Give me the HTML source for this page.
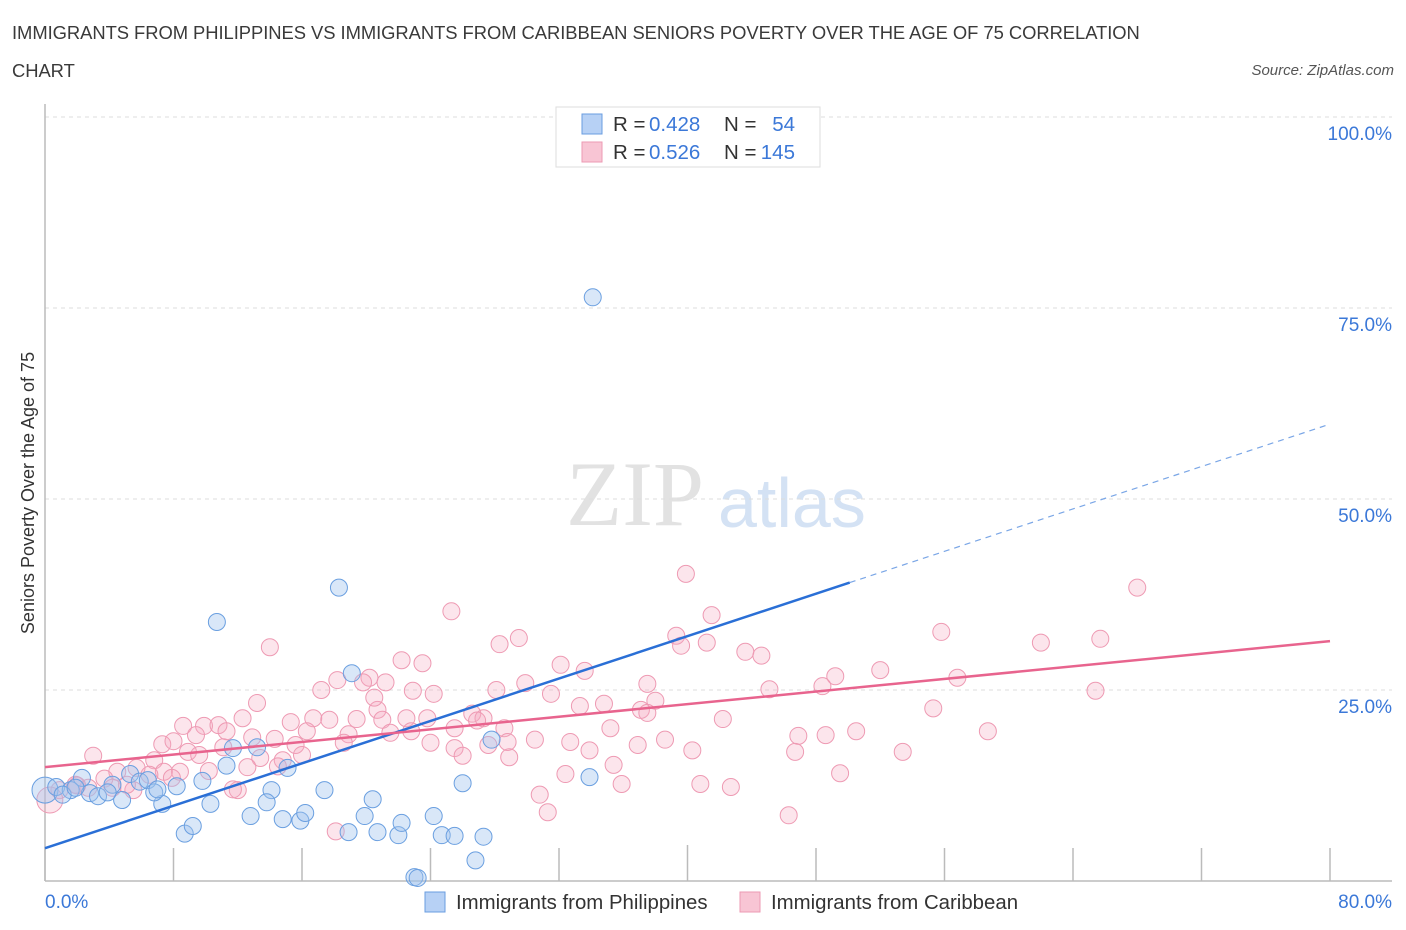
<!DOCTYPE html>
<html><head><meta charset="utf-8"><style>
body{margin:0;background:#fff;font-family:"Liberation Sans",sans-serif;}
#wrap{position:relative;width:1406px;height:930px;overflow:hidden;}
.t{position:absolute;white-space:nowrap;}
</style></head><body>
<div id="wrap">
<div class="t" style="left:12px;top:14px;font-size:18.4px;color:#3a3a3a;line-height:38px;letter-spacing:-0.05px;">IMMIGRANTS FROM PHILIPPINES VS IMMIGRANTS FROM CARIBBEAN SENIORS POVERTY OVER THE AGE OF 75 CORRELATION<br>CHART</div>
<div class="t" style="right:12px;top:62px;font-size:15px;color:#555;font-style:italic;">Source: ZipAtlas.com</div>
<svg id="plot" width="1406" height="930" style="position:absolute;left:0;top:0"></svg>
</div>
<script>
const xTicks=[0,10,20,30,40,50,60,70,80];
const yTicks=[25,50,75,100];
const blueX=[47.6,34.1,18.3,10.7,19.1,27.8,33.9,26.0,13.2,11.7,11.3,15.1,20.4,17.4,14.1,13.8,10.3,9.8,8.2,7.3,8.7,9.2,12.8,14.8,15.9,16.2,18.9,19.9,20.7,22.0,22.2,24.2,24.7,25.5,27.3,26.8,23.0,23.2,0,0.7,2.3,2.8,3.3,4.8,4.2,5.3,5.9,6.4,6.8,1.6,1.1,3.9,7.0,1.9];
const blueY=[100,76.4,38.4,33.9,27.2,18.5,13.6,12.8,17.5,17.4,15.1,14.8,10.7,11.9,11.9,10.3,10.1,13.1,12.4,10.1,6.2,7.2,8.5,8.1,7.9,8.9,6.4,8.5,6.4,6.0,7.6,8.5,6.0,5.9,5.8,2.7,0.5,0.4,11.9,12.3,13.5,11.5,11.1,10.6,12.6,14.0,13.0,13.2,11.6,11.9,11.3,11.6,12.0,12.2];
const pinkX=[39.9,68.0,25.3,41.5,29.5,39.3,55.8,65.7,62.0,28.3,41.2,39.6,14.0,43.6,44.6,22.2,23.5,32.1,33.6,52.0,49.2,56.8,18.2,20.2,21.2,29.9,37.5,48.4,45.1,65.4,17.2,22.9,24.2,28.1,31.5,38.0,13.2,20.7,26.6,33.3,34.8,37.1,37.5,55.3,12.3,8.6,9.9,10.8,15.3,16.7,17.7,19.4,21.0,22.5,23.8,27.3,28.6,35.2,42.2,58.7,50.5,48.6,46.9,9.4,11.3,12.9,14.3,16.3,18.9,21.5,22.8,25.5,28.8,30.5,32.7,7.3,8.0,11.1,15.6,18.6,24.0,25.5,27.6,36.9,38.6,40.3,46.7,53.4,33.9,26.0,28.9,3.0,6.8,8.9,9.6,13.4,14.8,35.4,12.6,10.2,8.4,7.4,5.7,4.5,3.7,6.5,32.4,49.5,35.9,40.8,42.7,30.8,5.5,2.7,1.9,0.9,0.3,12.0,18.1,31.3,46.3,4.2,5.1,19.8,26.9,16.0,11.7,2.0,7.9,14.5,20.5];
const pinkY=[40.2,38.4,35.3,34.8,31.8,32.1,32.6,31.7,31.2,31.0,31.2,30.8,30.6,30.0,29.5,28.9,28.5,28.3,27.5,27.6,26.8,26.6,26.3,26.6,26.0,25.9,25.8,25.5,25.1,24.9,25.0,24.9,24.5,25.0,24.5,23.6,23.3,22.4,21.9,22.9,23.2,22.4,22.0,22.6,21.3,20.3,20.3,20.4,20.8,21.3,21.1,21.2,21.1,21.3,21.3,21.3,20.0,20.0,21.2,19.6,19.6,19.1,19.0,19.1,19.6,18.8,18.6,19.6,19.2,19.4,19.6,20.0,18.2,18.5,18.2,17.9,18.3,17.5,17.8,18.1,18.1,17.4,17.8,17.8,18.5,17.1,16.9,16.9,17.1,16.4,16.2,16.4,15.8,16.9,16.5,16.1,15.8,15.2,14.9,14.4,14.3,14.3,14.8,14.3,13.4,13.9,14.0,14.1,12.7,12.7,12.3,11.3,11.9,12.2,12.6,11.9,10.6,11.9,6.5,9.0,8.6,12.2,12.6,26.0,21.0,16.5,12.0,12.5,13.5,15.0,24.0];
const blueTrend=[4.3,59.8];
const pinkTrend=[14.9,31.4];
const blueSolidEnd=50.1;

const NS='http://www.w3.org/2000/svg';
const svg=document.getElementById('plot');
const X0=45,X1=1330,Y0=881,Y100=117;
const xs=v=>X0+v/80*(X1-X0);
const ys=v=>Y0-v/100*(Y0-Y100);
function mk(tag,attrs,parent){const e=document.createElementNS(NS,tag);for(const k in attrs)e.setAttribute(k,attrs[k]);(parent||svg).appendChild(e);return e;}

let wm=mk('text',{x:635,y:525,'font-size':92,'font-family':'Liberation Serif, serif',fill:'#e2e2e2','text-anchor':'middle'});


wm.textContent='ZIP';
let wm2=mk('text',{x:718,y:527,'font-size':70,'font-family':'Liberation Sans, sans-serif',fill:'#d4e2f4'});


wm2.textContent='atlas';

yTicks.forEach(v=>{
  const g=mk('line',{x1:X0,x2:1392,y1:ys(v),y2:ys(v),stroke:'#ddd','stroke-dasharray':'4,4'});
  
  
  const t=mk('text',{x:1392,y:ys(v)+23,'font-size':19,fill:'#3b78d8','text-anchor':'end'});
  
  
  t.textContent=v.toFixed(1)+'%';
});
let ax=mk('line',{x1:X0,x2:X0,y1:104,y2:Y0,stroke:'#bbb','stroke-width':1.5});


let ax2=mk('line',{x1:X0,x2:1392,y1:Y0,y2:Y0,stroke:'#bbb','stroke-width':1.5});


for(let i=0;i<=10;i++){
  const tk=mk('line',{x1:xs(i*8),x2:xs(i*8),y1:i==5?845:848,y2:Y0,stroke:'#bbb','stroke-width':1.5});
  
  
}
[[0,'0.0%','start',45],[80,'80.0%','end',1392]].forEach(a=>{
  const t=mk('text',{x:a[3],y:908,'font-size':19,fill:'#3b78d8','text-anchor':a[2]});
  
  
  t.textContent=a[1];
});
let yt=mk('text',{x:0,y:0,'font-size':18,fill:'#333','text-anchor':'middle',transform:'translate(34,493) rotate(-90)'});


yt.textContent='Seniors Poverty Over the Age of 75';

pinkX.forEach((x,i)=>{
  const c=mk('circle',{cx:xs(x),cy:ys(pinkY[i]),r:i==116?13:8.5,fill:'rgba(244,170,192,0.3)',stroke:'#ee9ab3','stroke-width':1});
  
  
});
blueX.forEach((x,i)=>{
  const c=mk('circle',{cx:xs(x),cy:ys(blueY[i]),r:i==38?13:8.5,fill:'rgba(160,196,238,0.4)',stroke:'#6a9fe0','stroke-width':1});
  
  
});
const bAt=v=>blueTrend[0]+(blueTrend[1]-blueTrend[0])*v/80;
let bl=mk('line',{x1:xs(0),y1:ys(bAt(0)),x2:xs(blueSolidEnd),y2:ys(bAt(blueSolidEnd)),stroke:'#2a6fd6','stroke-width':2.5});


let bd=mk('line',{x1:xs(blueSolidEnd),y1:ys(bAt(blueSolidEnd)),x2:xs(80),y2:ys(bAt(80)),stroke:'#7aa6e6','stroke-width':1.2,'stroke-dasharray':'6,5'});


let pl=mk('line',{x1:xs(0),y1:ys(pinkTrend[0]),x2:xs(80),y2:ys(pinkTrend[1]),stroke:'#e8648e','stroke-width':2.5});



let lb=mk('rect',{x:556,y:107,width:264,height:60,fill:'#fff',stroke:'#ddd'});


[[0,'#b7d1f5','#6a9de0','0.428','54'],[1,'#f8c5d4','#ec9ab3','0.526','145']].forEach(a=>{
  const y=124+a[0]*28;
  const r=mk('rect',{x:582,y:y-10,width:20,height:20,fill:a[1],stroke:a[2]});
  
  
  const t1=mk('text',{x:613,y:y+7,'font-size':20.5,fill:'#333'});
  
  
  t1.textContent='R =';
  const t2=mk('text',{x:649,y:y+7,'font-size':20.5,fill:'#3b78d8'});
  
  
  t2.textContent=a[3];
  const t3=mk('text',{x:724,y:y+7,'font-size':20.5,fill:'#333'});
  
  
  t3.textContent='N =';
  const t4=mk('text',{x:795,y:y+7,'font-size':20.5,fill:'#3b78d8','text-anchor':'end'});
  
  
  t4.textContent=a[4];
});
[[425,'#b7d1f5','#6a9de0','Immigrants from Philippines'],[740,'#f8c5d4','#ec9ab3','Immigrants from Caribbean']].forEach(a=>{
  const r=mk('rect',{x:a[0],y:892,width:20,height:20,fill:a[1],stroke:a[2]});
  
  
  const t=mk('text',{x:a[0]+31,y:909,'font-size':20.4,fill:'#333'});
  
  
  t.textContent=a[3];
});
</script>
</body></html>
